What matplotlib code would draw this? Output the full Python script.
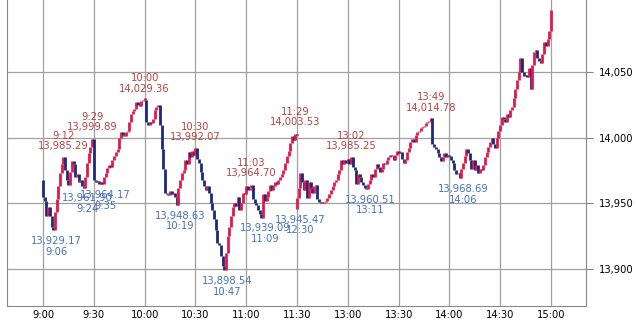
import matplotlib
matplotlib.use("Agg")
import matplotlib.pyplot as plt
from matplotlib.ticker import FuncFormatter

# 1分足の終値（前場 9:00-11:30、後場 12:30-15:00）
am_open = 13968
am_close = [
    13955, 13952, 13940, 13947, 13940, 13932, 13930, 13943, 13953, 13963,
    13973, 13980, 13985, 13975, 13968, 13964, 13974, 13982, 13980, 13970,
    13972, 13966, 13968, 13963, 13962, 13970, 13981, 13988, 13993, 13999,
    13968, 13966, 13967, 13965, 13966, 13965, 13970, 13973, 13977, 13979,
    13978, 13983, 13986, 13989, 13991, 14000, 14004, 14002, 14001, 14004,
    14005, 14012, 14018, 14020, 14022, 14027, 14025, 14024, 14028, 14029,
    14029, 14012, 14010, 14012, 14011, 14014, 14021, 14023, 14025, 14010,
    13991, 13976, 13958, 13957, 13956, 13959, 13957, 13958, 13955, 13949,
    13962, 13968, 13973, 13975, 13983, 13980, 13989, 13985, 13990, 13987,
    13992, 13984, 13981, 13974, 13968, 13963, 13960, 13963, 13958, 13950,
    13945, 13938, 13930, 13920, 13918, 13910, 13902, 13899, 13912, 13925,
    13932, 13940, 13947, 13950, 13948, 13955, 13945, 13950, 13958, 13957,
    13963, 13960, 13962, 13964, 13953, 13950, 13949, 13945, 13942, 13939,
    13957, 13952, 13955, 13959, 13964, 13960, 13963, 13966, 13965, 13968,
    13970, 13972, 13975, 13981, 13986, 13990, 13996, 14001, 13998, 14003,
    14002,
]
pm_open = 13946
pm_close = [
    13954, 13962, 13973, 13966, 13960, 13968, 13954, 13966, 13962, 13958,
    13963, 13964, 13953, 13951, 13950, 13950, 13951, 13952, 13954, 13957,
    13960, 13963, 13966, 13968, 13972, 13975, 13983, 13980, 13983, 13981,
    13984, 13980, 13985, 13978, 13975, 13965, 13972, 13970, 13966, 13964,
    13962, 13961, 13965, 13968, 13972, 13970, 13976, 13980, 13978, 13974,
    13976, 13981, 13980, 13983, 13985, 13987, 13986, 13983, 13987, 13990,
    13988, 13989, 13984, 13981, 13983, 13989, 13992, 13997, 13999, 13997,
    14002, 14004, 14005, 14007, 14008, 14009, 14011, 14012, 14013, 14015,
    13995, 13993, 13991, 13988, 13985, 13982, 13985, 13988, 13985, 13987,
    13986, 13983, 13981, 13975, 13972, 13973, 13969, 13976, 13981, 13986,
    13991, 13988, 13983, 13976, 13983, 13975, 13979, 13973, 13976, 13975,
    13979, 13985, 13989, 13993, 13997, 14000, 13995, 13992, 14000, 14005,
    14010, 14016, 14014, 14012, 14018, 14016, 14021, 14023, 14030, 14037,
    14044, 14050, 14061, 14050, 14047, 14048, 14046, 14053, 14037, 14055,
    14065, 14067, 14061, 14058, 14057, 14064, 14073, 14070, 14075, 14081,
    14097,
]

# 高値・安値の注記（時刻, 値）
high_times = ["9:12", "9:29", "10:00", "10:30", "11:03", "11:29", "13:02", "13:49"]
high_values = [13985.29, 13999.89, 14029.36, 13992.07, 13964.70, 14003.53, 13985.25, 14014.78]
low_times = ["9:06", "9:24", "9:35", "10:19", "10:47", "11:09", "12:30", "13:11", "14:06"]
low_values = [13929.17, 13961.90, 13964.17, 13948.63, 13898.54, 13939.09, 13945.47, 13960.51, 13968.69]

tick_labels = ["9:00", "9:30", "10:00", "10:30", "11:00", "11:30",
               "13:00", "13:30", "14:00", "14:30", "15:00"]


def to_x(t):
    # 昼休みを詰めた分単位の位置（11:30 と 12:30 が同じ位置）
    h, m = map(int, t.split(":"))
    mins = h * 60 + m - 540
    if mins > 150:
        mins -= 60
    return mins


UP = "#e3174b"
DOWN = "#1b2a78"

fig = plt.figure(figsize=(6.36, 3.22), dpi=100)
ax = fig.add_axes([7 / 636, 16 / 322, 579 / 636, 306 / 322])

opens = [am_open] + am_close[:-1] + [pm_open] + pm_close[:-1]
closes = am_close + pm_close
xs = list(range(len(am_close))) + [150 + i for i in range(len(pm_close))]
for x, o, c in zip(xs, opens, closes):
    lo, hi = min(o, c), max(o, c)
    if hi - lo < 0.8:
        hi = lo + 0.8
    ax.vlines(x, lo, hi, color=UP if c >= o else DOWN, lw=2.0, zorder=3)

for t, v in zip(high_times, high_values):
    ax.annotate("%s\n%s" % (t, format(v, ",.2f")), (to_x(t), v), xytext=(0, 4),
                textcoords="offset points", ha="center", va="bottom",
                fontsize=7.2, color="#b8433f", linespacing=1.05, zorder=4)
for t, v in zip(low_times, low_values):
    ax.annotate("%s\n%s" % (format(v, ",.2f"), t), (to_x(t) + 2, v), xytext=(0, -4),
                textcoords="offset points", ha="center", va="top",
                fontsize=7.2, color="#4670c0", linespacing=1.05, zorder=4)

ax.set_xlim(-21.3, 320.7)
ax.set_ylim(13871.8, 14104.8)
ax.set_xticks([to_x(t) for t in tick_labels])
ax.set_xticklabels(tick_labels)
ax.set_yticks([13900, 13950, 14000, 14050])
ax.yaxis.set_major_formatter(FuncFormatter(lambda v, p: format(int(v), ",")))
ax.yaxis.tick_right()
ax.tick_params(axis="y", length=5, color="#888888", labelsize=7.2, pad=4)
ax.tick_params(axis="x", length=0, labelsize=7.2, pad=3)
ax.grid(True, color="#a0a0a0", lw=0.9)
ax.set_axisbelow(True)
for side in ["left", "bottom", "right"]:
    ax.spines[side].set_color("#888888")
ax.spines["top"].set_visible(False)

fig.savefig("out.png", dpi=100)
